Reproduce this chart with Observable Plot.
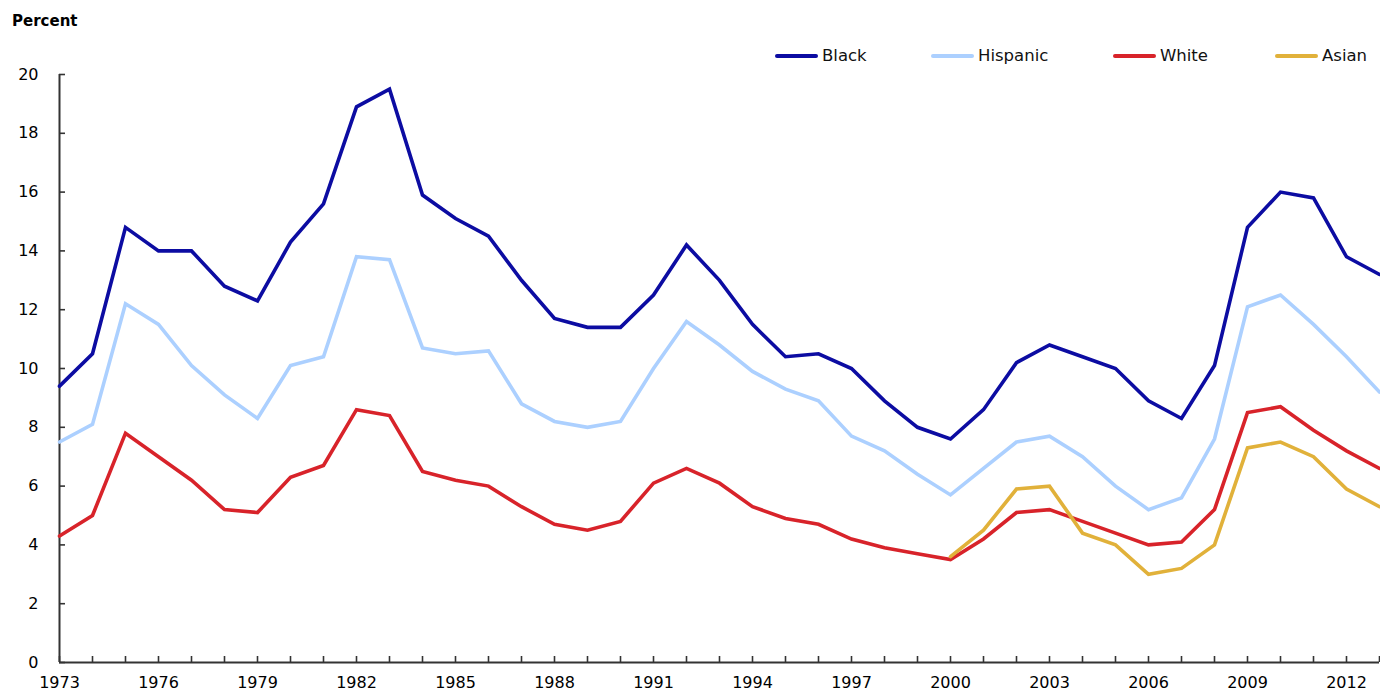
<!DOCTYPE html>
<html>
<head>
<meta charset="utf-8">
<script src="https://cdn.jsdelivr.net/npm/d3@7"></script>
<script src="https://cdn.jsdelivr.net/npm/@observablehq/plot@0.6"></script>
<style>
  html, body { margin: 0; padding: 0; background: #fff; }
  #wrap { position: relative; width: 1380px; height: 692px; overflow: hidden; font-family: "DejaVu Sans", Verdana, sans-serif; }
  #header { position: relative; width: 1380px; height: 66px; }
  #ylabel { position: absolute; left: 12px; top: 12px; font: bold 15px "DejaVu Sans", sans-serif; line-height: 18px; color: #000; }
  .item { position: absolute; top: 46px; height: 20px; display: flex; align-items: center; font: 16.5px "DejaVu Sans", sans-serif; line-height: 20px; color: #111; white-space: nowrap; }
  .sw { display: inline-block; width: 43px; height: 4px; border-radius: 2px; margin-right: 4px; }
</style>
</head>
<body>
<div id="wrap">
  <div id="header">
    <div id="ylabel">Percent</div>
  </div>
  <div id="chart"></div>
</div>
<script>
// ---- Data ----
const years = d3.range(1973, 2014);
const black = [9.4,10.5,14.8,14.0,14.0,12.8,12.3,14.3,15.6,18.9,
               19.5,15.9,15.1,14.5,13.0,11.7,11.4,11.4,12.5,14.2,
               13.0,11.5,10.4,10.5,10.0,8.9,8.0,7.6,8.6,10.2,
               10.8,10.4,10.0,8.9,8.3,10.1,14.8,16.0,15.8,13.8,
               13.2];
const hispanic = [7.5,8.1,12.2,11.5,10.1,9.1,8.3,10.1,10.4,13.8,
                  13.7,10.7,10.5,10.6,8.8,8.2,8.0,8.2,10.0,11.6,
                  10.8,9.9,9.3,8.9,7.7,7.2,6.4,5.7,6.6,7.5,
                  7.7,7.0,6.0,5.2,5.6,7.6,12.1,12.5,11.5,10.4,
                  9.2];
const white = [4.3,5.0,7.8,7.0,6.2,5.2,5.1,6.3,6.7,8.6,
               8.4,6.5,6.2,6.0,5.3,4.7,4.5,4.8,6.1,6.6,
               6.1,5.3,4.9,4.7,4.2,3.9,3.7,3.5,4.2,5.1,
               5.2,4.8,4.4,4.0,4.1,5.2,8.5,8.7,7.9,7.2,
               6.6];
const asianYears = d3.range(2000, 2014);
const asian = [3.6,4.5,5.9,6.0,4.4,4.0,3.0,3.2,4.0,7.3,7.5,7.0,5.9,5.3];
const seriesNames = ["Black", "Hispanic", "White", "Asian"];
const seriesColors = ["#0c0ca2", "#acd0ff", "#d8232a", "#e1b13a"];
const yTicks = [0,2,4,6,8,10,12,14,16,18,20];
const xLabelYears = [1973,1976,1979,1982,1985,1988,1991,1994,1997,2000,2003,2006,2009,2012];

// ---- Build tables ----
const toRows = (xs, vs, name) => xs.map((x, i) => ({year: x, value: vs[i], series: name}));
const rows = {
  Black: toRows(years, black, "Black"),
  Hispanic: toRows(years, hispanic, "Hispanic"),
  White: toRows(years, white, "White"),
  Asian: toRows(asianYears, asian, "Asian")
};

// ---- Legend ----
const header = document.getElementById("header");
const legendLefts = [775, 931, 1113, 1275];
seriesNames.forEach((name, i) => {
  const it = document.createElement("div");
  it.className = "item";
  it.style.left = legendLefts[i] + "px";
  const sw = document.createElement("span");
  sw.className = "sw";
  sw.style.background = seriesColors[i];
  const tx = document.createElement("span");
  tx.textContent = name;
  it.appendChild(sw);
  it.appendChild(tx);
  header.appendChild(it);
});

// ---- Chart ----
const axisColor = "#333";
const chart = Plot.plot({
  width: 1380,
  height: 626,
  marginTop: 8,
  marginBottom: 30,
  marginLeft: 59,
  marginRight: 1,
  style: {fontFamily: "DejaVu Sans, sans-serif", fontSize: "16px", color: "#000", background: "#fff", overflow: "visible"},
  x: {domain: [1973, 2013]},
  y: {domain: [0, 20]},
  marks: [
    Plot.axisY({ticks: yTicks, tickSize: -6, tickPadding: 27, stroke: axisColor, strokeWidth: 1.6, tickFormat: d => String(d), label: null, fill: "#000"}),
    Plot.axisX({ticks: years, tickSize: -6, tickFormat: () => "", stroke: axisColor, strokeWidth: 1.6, label: null}),
    Plot.axisX({ticks: xLabelYears, tickSize: 0, tickPadding: 14, tickFormat: d => String(d), label: null, fill: "#000"}),
    Plot.ruleX([1973], {y1: 0, y2: 20, stroke: axisColor, strokeWidth: 2}),
    Plot.ruleY([0], {stroke: axisColor, strokeWidth: 2}),
    ...seriesNames.map((name, i) => Plot.line(rows[name], {x: "year", y: "value", stroke: seriesColors[i], strokeWidth: 3.6, strokeLinejoin: "miter", strokeMiterlimit: 4}))
  ]
});
document.getElementById("chart").appendChild(chart);
</script>
</body>
</html>
